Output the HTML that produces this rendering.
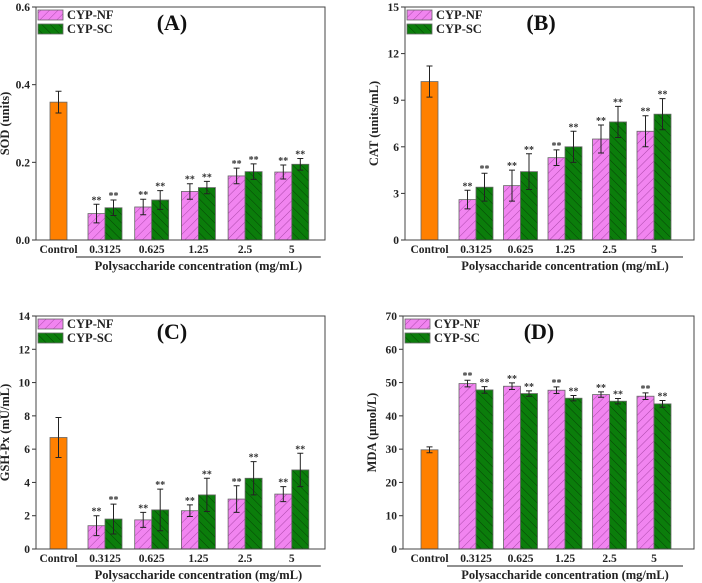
<!DOCTYPE html>
<html><head><meta charset="utf-8">
<style>
body{margin:0;background:#fff;}
svg{display:block;font-family:"Liberation Serif",serif;font-weight:bold;}
</style></head>
<body>
<svg id="fig" width="702" height="583" viewBox="0 0 702 583">
<defs>
<pattern id="pNF" width="6" height="6" patternUnits="userSpaceOnUse" patternTransform="rotate(45)"><rect width="6" height="6" fill="#f184f0"/><line x1="0" y1="0" x2="0" y2="6" stroke="#9a3a9a" stroke-width="0.8"/></pattern>
<pattern id="pSC" width="6" height="6" patternUnits="userSpaceOnUse" patternTransform="rotate(-45)"><rect width="6" height="6" fill="#0b7d0b"/><line x1="0" y1="0" x2="0" y2="6" stroke="#053c05" stroke-width="0.9"/></pattern>
</defs>
</svg>
<script>
const categories = ["0.3125","0.625","1.25","2.5","5"];
const aControl = [0.355, 0.028];
const aNF = [0.068,0.085,0.125,0.165,0.175];
const aNFerr = [0.024,0.02,0.02,0.02,0.018];
const aSC = [0.083,0.103,0.135,0.176,0.195];
const aSCerr = [0.02,0.024,0.016,0.02,0.015];
const aTicks = ["0.0","0.2","0.4","0.6"];
const bControl = [10.2, 1.0];
const bNF = [2.6,3.5,5.3,6.5,7.0];
const bNFerr = [0.6,1.0,0.5,0.9,1.0];
const bSC = [3.4,4.4,6.0,7.6,8.1];
const bSCerr = [0.9,1.15,1.0,1.0,1.0];
const bTicks = ["0","3","6","9","12","15"];
const cControl = [6.7, 1.2];
const cNF = [1.4,1.75,2.3,3.0,3.3];
const cNFerr = [0.6,0.45,0.35,0.8,0.45];
const cSC = [1.8,2.35,3.25,4.25,4.75];
const cSCerr = [0.9,1.25,1.0,1.0,1.0];
const cTicks = ["0","2","4","6","8","10","12","14"];
const dControl = [29.8, 0.9];
const dNF = [49.7,48.9,47.7,46.4,45.9];
const dNFerr = [1.0,1.0,1.0,0.8,1.0];
const dSC = [47.8,46.7,45.3,44.4,43.6];
const dSCerr = [1.0,0.8,0.8,0.8,1.0];
const dTicks = ["0","10","20","30","40","50","60","70"];

const svg=document.getElementById('fig');
const NS='http://www.w3.org/2000/svg';
function mk(tag,attrs,parent,txt){const e=document.createElementNS(NS,tag);for(const k in attrs)e.setAttribute(k,attrs[k]);if(txt!==undefined)e.textContent=txt;(parent||svg).appendChild(e);return e;}

function panel(id,L,R,T,B,ticks,ctrl,nf,nfe,sc,sce,ctrlX,g0,gStep,ytitle,label){
  const g=mk('g',{});
  
  
  const ymax=parseFloat(ticks[ticks.length-1]);
  const y=v=>B-(v/ymax)*(B-T);
  const bw=17;
  ticks.forEach(t=>{const v=parseFloat(t);const yy=y(v);
    mk('line',{x1:L-4,x2:L,y1:yy,y2:yy,stroke:'#333','stroke-width':1},g);
    const tl=mk('text',{x:L-6,y:yy+4,'text-anchor':'end','font-size':11.5,fill:'#222'},g,t);
    
    
  });
  function bar(cx,v,e,fill,name){
    const r=mk('rect',{x:cx-bw/2,y:y(v),width:bw,height:B-y(v),fill:fill,stroke:'#666','stroke-width':0.8},g);
    
    
    const eb=mk('path',{d:`M${cx},${y(v+e)}V${y(v-e)}M${cx-3},${y(v+e)}H${cx+3}M${cx-3},${y(v-e)}H${cx+3}`,stroke:'#222','stroke-width':1,fill:'none'},g);
    
    
  }
  bar(ctrlX,ctrl[0],ctrl[1],'#ff8000','bar-control');
  categories.forEach((c,i)=>{
    const cx=g0+i*gStep;
    bar(cx-bw/2,nf[i],nfe[i],'url(#pNF)','bar-nf-'+c);
    bar(cx+bw/2,sc[i],sce[i],'url(#pSC)','bar-sc-'+c);
    const s1=mk('text',{x:cx-bw/2,y:y(nf[i]+nfe[i])-1,'text-anchor':'middle','font-size':10,fill:'#333'},g,'**');
    
    
    const s2=mk('text',{x:cx+bw/2,y:y(sc[i]+sce[i])-1,'text-anchor':'middle','font-size':10,fill:'#333'},g,'**');
    
    
    const xl=mk('text',{x:cx,y:B+13,'text-anchor':'middle','font-size':11.5,fill:'#222'},g,c);
    
    
  });
  const cl=mk('text',{x:ctrlX,y:B+13,'text-anchor':'middle','font-size':11.5,fill:'#222'},g,'Control');
  
  
  const bx=mk('rect',{x:L,y:T,width:R-L,height:B-T,fill:'none',stroke:'#444','stroke-width':1},g);
  
  
  const ul=mk('line',{x1:g0-bw-12,x2:g0+4*gStep+bw+12,y1:B+17,y2:B+17,stroke:'#222','stroke-width':1},g);
  
  
  const xt=mk('text',{x:(g0+g0+4*gStep)/2,y:B+30,'text-anchor':'middle','font-size':12.5,fill:'#222'},g,'Polysaccharide concentration (mg/mL)');
  
  
  const yt=mk('text',{x:0,y:0,'text-anchor':'middle','font-size':12.5,fill:'#222',transform:`translate(${L-27},${(T+B)/2}) rotate(-90)`},g,ytitle);
  
  
  const lg=mk('g',{},g);
  
  
  mk('rect',{x:L+2,y:T+3,width:25,height:10,fill:'url(#pNF)',stroke:'#666','stroke-width':0.8},lg);
  mk('text',{x:L+31,y:T+12,'font-size':12.5,fill:'#222'},lg,'CYP-NF');
  mk('rect',{x:L+2,y:T+17,width:25,height:10,fill:'url(#pSC)',stroke:'#666','stroke-width':0.8},lg);
  mk('text',{x:L+31,y:T+26,'font-size':12.5,fill:'#222'},lg,'CYP-SC');
  const pl=mk('text',{x:L+136,y:T+23,'text-anchor':'middle','font-size':22,fill:'#111'},g,label);
  
  
}
panel('a',36,325,7,240,aTicks,aControl,aNF,aNFerr,aSC,aSCerr,58.5,105,46.7,'SOD (units)','(A)');
panel('b',405,694,7,240,bTicks,bControl,bNF,bNFerr,bSC,bSCerr,429.5,476,44.5,'CAT (units/mL)','(B)');
panel('c',36,325,316,549,cTicks,cControl,cNF,cNFerr,cSC,cSCerr,58.5,105,46.7,'GSH-Px (mU/mL)','(C)');
panel('d',403,694,316,549,dTicks,dControl,dNF,dNFerr,dSC,dSCerr,429.5,476,44.5,'MDA (μmol/L)','(D)');
</script>
</body></html>
